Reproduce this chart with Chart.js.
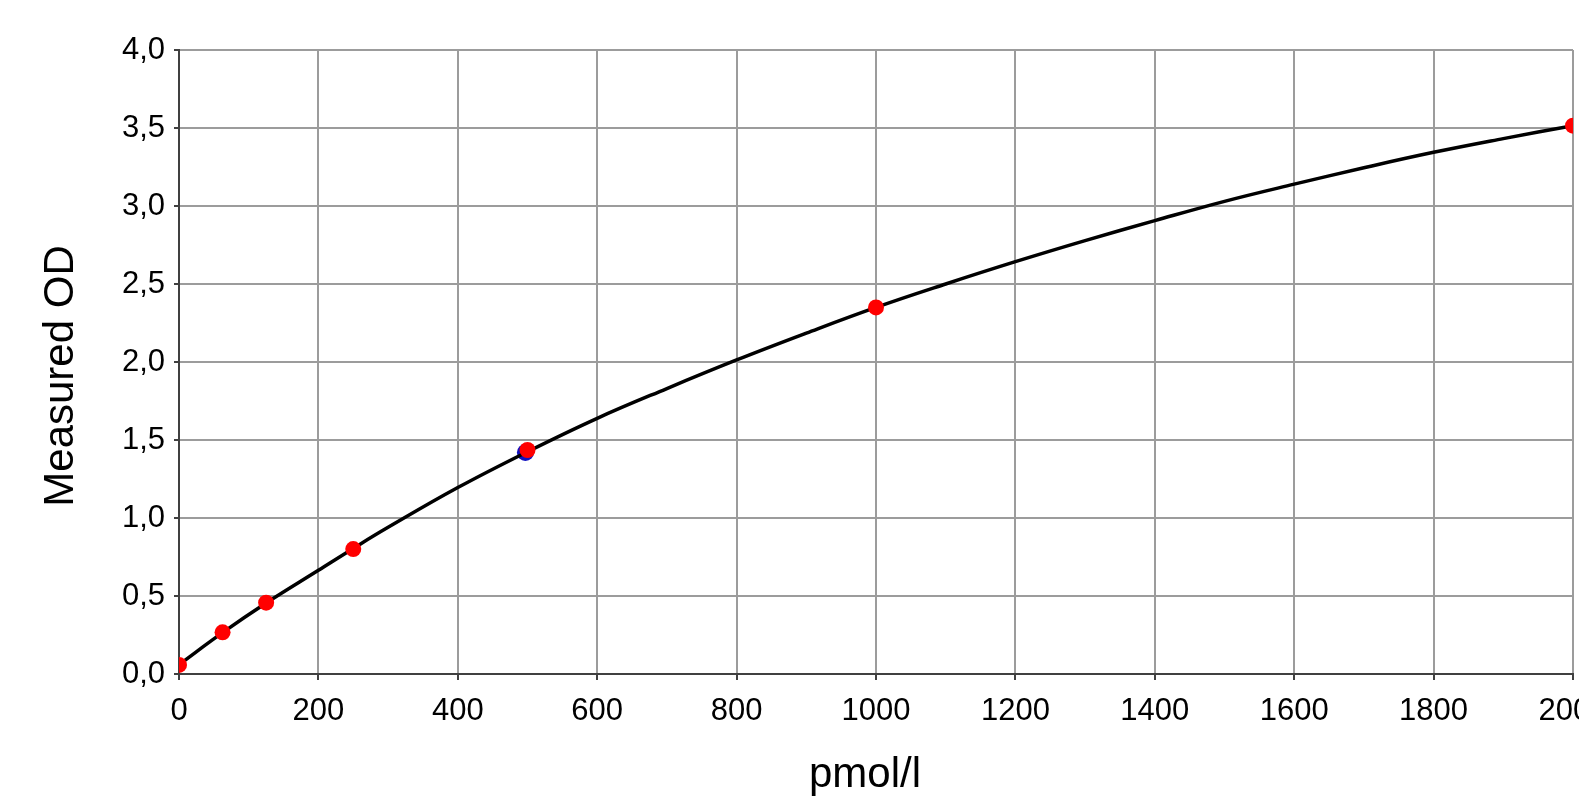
<!DOCTYPE html>
<html>
<head>
<meta charset="utf-8">
<script src="https://cdn.jsdelivr.net/npm/chart.js@4"></script>
<style>
  html, body { margin: 0; padding: 0; background: #fff; overflow: hidden; }
  #wrap { position: absolute; left: 0; top: 0; width: 1620px; height: 797px; }
</style>
</head>
<body>
<div id="wrap"><canvas id="odChart"></canvas></div>
<script>
// standards (red)
const stdConc = [0, 62.5, 125, 250, 500, 1000, 2000];
const stdOD = [0.058, 0.267, 0.457, 0.801, 1.436, 2.35, 3.515];

// the blue marker hiding behind the 500 standard
const blueConc = [497];
const blueOD = [1.42];

// fitted curve, sampled from the drawn line
const fitConc = [0, 62.5, 125, 200, 250, 300, 400, 500, 600, 700, 800, 900, 1000, 1100, 1200, 1300, 1400, 1500, 1600, 1700, 1800, 1900, 2000];
const fitOD = [0.06, 0.265, 0.455, 0.665, 0.805, 0.94, 1.195, 1.425, 1.639, 1.83, 2.013, 2.185, 2.35, 2.5, 2.643, 2.778, 2.906, 3.03, 3.14, 3.245, 3.344, 3.432, 3.515];

const xTicks = [0, 200, 400, 600, 800, 1000, 1200, 1400, 1600, 1800, 2000];
const yTicks = [0, 0.5, 1, 1.5, 2, 2.5, 3, 3.5, 4];

const toPoints = (xs, ys) => xs.map((x, i) => ({ x: x, y: ys[i] }));

const FONT = "'Liberation Sans', Arial, sans-serif";
const gridColor = '#9c9c9c';
const axisColor = '#404040';

// axis titles sit a little off-centre in the original, so draw them here
const axisTitlePlugin = {
    id: 'axisTitles',
    afterDraw(chart) {
        const { ctx, chartArea } = chart;
        const midX = (chartArea.left + chartArea.right) / 2;
        const midY = (chartArea.top + chartArea.bottom) / 2;
        ctx.save();
        ctx.font = '42px ' + FONT;
        ctx.fillStyle = '#000';
        ctx.textAlign = 'center';
        ctx.textBaseline = 'middle';
        ctx.fillText('pmol/l', midX - 11, 775);
        ctx.translate(61, midY + 14);
        ctx.rotate(-Math.PI / 2);
        ctx.fillText('Measured OD', 0, 0);
        ctx.restore();
    }
};

new Chart(document.getElementById('odChart'), {
    type: 'scatter',
    data: {
        datasets: [
            {
                label: 'Standards',
                data: toPoints(stdConc, stdOD),
                backgroundColor: '#ff0000',
                borderWidth: 0,
                pointRadius: 8,
                order: 0
            },
            {
                label: 'Fit',
                data: toPoints(fitConc, fitOD),
                showLine: true,
                borderColor: '#000000',
                borderWidth: 3.5,
                pointRadius: 0,
                tension: 0.4,
                order: 1
            },
            {
                label: 'Sample',
                data: toPoints(blueConc, blueOD),
                backgroundColor: '#1010c0',
                borderWidth: 0,
                pointRadius: 8.5,
                order: 2
            }
        ]
    },
    options: {
        responsive: true,
        maintainAspectRatio: false,
        animation: false,
        layout: { padding: { top: 50, right: 47, left: 0, bottom: 0 } },
        plugins: { legend: { display: false }, tooltip: { enabled: false } },
        scales: {
            x: {
                type: 'linear',
                min: 0,
                max: 2000,
                afterBuildTicks: s => { s.ticks = xTicks.map(v => ({ value: v })); },
                afterFit: s => { s.height = 123; s.paddingLeft = 0; s.paddingRight = 0; },
                ticks: {
                    color: '#000',
                    font: { family: FONT, size: 31 },
                    padding: 13,
                    maxRotation: 0,
                    callback: v => String(v)
                },
                grid: { color: gridColor, lineWidth: 2, tickLength: 6, tickColor: axisColor, tickWidth: 2 },
                border: { color: axisColor, width: 2 }
            },
            y: {
                type: 'linear',
                min: 0,
                max: 4,
                afterBuildTicks: s => { s.ticks = yTicks.map(v => ({ value: v })); },
                afterFit: s => { s.width = 179; s.paddingTop = 0; s.paddingBottom = 0; },
                ticks: {
                    color: '#000',
                    font: { family: FONT, size: 31 },
                    padding: 9,
                    callback: v => v.toFixed(1).replace('.', ',')
                },
                grid: { color: gridColor, lineWidth: 2, tickLength: 5, tickColor: axisColor, tickWidth: 2 },
                border: { color: axisColor, width: 2 }
            }
        }
    },
    plugins: [axisTitlePlugin]
});
</script>
</body>
</html>
